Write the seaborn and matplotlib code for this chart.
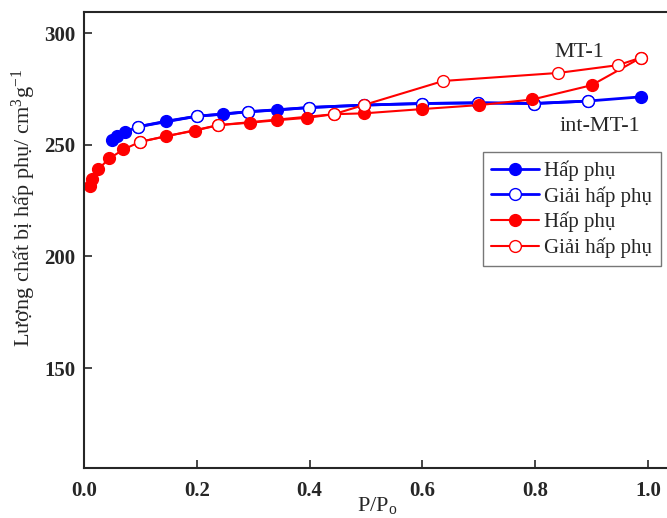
import numpy as np
import pandas as pd
import seaborn as sns
import matplotlib.pyplot as plt

# int-MT-1 (blue)
int_ads_x = [0.049, 0.058, 0.073, 0.096, 0.146, 0.200, 0.246, 0.290, 0.343, 0.399,
             0.497, 0.599, 0.698, 0.798, 0.893, 0.988]
int_ads_y = [252.1, 253.9, 255.8, 258.1, 260.6, 262.8, 263.7, 264.8, 265.6, 266.7,
             267.8, 268.5, 268.8, 268.5, 269.6, 271.5]
int_des_x = [0.893, 0.798, 0.698, 0.599, 0.497, 0.399, 0.290, 0.200, 0.096]
int_des_y = [269.6, 268.5, 268.8, 268.5, 267.8, 266.7, 264.8, 262.8, 258.1]

# MT-1 (red)
mt_ads_x = [0.011, 0.015, 0.025, 0.045, 0.070, 0.099, 0.146, 0.196, 0.238, 0.294,
            0.342, 0.396, 0.443, 0.497, 0.599, 0.701, 0.795, 0.900, 0.988]
mt_ads_y = [231.5, 234.5, 239.0, 243.9, 247.9, 251.3, 253.9, 256.3, 258.8, 259.9,
            261.0, 262.1, 263.7, 264.1, 266.0, 267.8, 270.3, 276.7, 289.1]
mt_des_x = [0.988, 0.947, 0.841, 0.637, 0.497, 0.443, 0.238, 0.099]
mt_des_y = [289.1, 285.7, 282.2, 278.6, 267.9, 263.7, 258.8, 251.3]

sns.set_style('ticks')
plt.rcParams['font.family'] = ['Liberation Serif', 'DejaVu Serif']
plt.rcParams['mathtext.fontset'] = 'stix'

W, H = 667, 518
fig = plt.figure(figsize=(W / 100, H / 100), dpi=100)
# right spine falls just outside the canvas, as in the reference
ax = fig.add_axes([84 / W, 1 - 468 / H, (676 - 84) / W, (468 - 12) / H])

series = [
    (int_ads_x, int_ads_y, 'blue', 'blue', 'Hấp phụ', 2.0),
    (int_des_x, int_des_y, 'blue', 'white', 'Giải hấp phụ', 2.0),
    (mt_ads_x, mt_ads_y, 'red', 'red', 'Hấp phụ', 1.5),
    (mt_des_x, mt_des_y, 'red', 'white', 'Giải hấp phụ', 1.5),
]
for xs, ys, col, face, lab, lw in series:
    df = pd.DataFrame({'x': xs, 'y': ys})
    sns.lineplot(data=df, x='x', y='y', ax=ax, sort=False, color=col, lw=lw,
                 marker='o', markersize=8.5, markerfacecolor=face,
                 markeredgecolor=col, markeredgewidth=1.0, label=lab)

ax.set_xlim(0, (676 - 84) / 564)
ax.set_ylim(105.2, 309.5)
ax.set_xticks([0.0, 0.2, 0.4, 0.6, 0.8, 1.0])
ax.set_yticks([150, 200, 250, 300])
ax.tick_params(direction='in', length=6, width=1.2, labelsize=15)
ax.tick_params(axis='x', pad=9)
ax.tick_params(axis='y', pad=6)
for t in ax.get_xticklabels() + ax.get_yticklabels():
    t.set_fontweight('bold')
for s in ax.spines.values():
    s.set_linewidth(1.5)

ax.set_xlabel('P/P$_\\mathregular{o}$', fontsize=16)
ax.xaxis.set_label_coords(377 / W, 1 - 495 / H, transform=fig.transFigure)
ax.xaxis.label.set_va('top')
ax.set_ylabel('Lượng chất bị hấp phụ/ cm$\\mathregular{^3}$g$\\mathregular{^{-1}}$', fontsize=16)
ax.yaxis.set_label_coords(38 / W, 1 - 208 / H, transform=fig.transFigure)

ax.text(0.878, 289.3, 'MT-1', fontsize=16, ha='center', va='baseline')
ax.text(0.915, 256.1, 'int-MT-1', fontsize=16, ha='center', va='baseline')

leg = ax.legend(loc='upper left', bbox_to_anchor=(483 / W, 1 - 152 / H),
                bbox_transform=fig.transFigure, prop={'size': 15}, frameon=True,
                fancybox=False, edgecolor='#555555', borderpad=0.4,
                handlelength=2.3, handletextpad=0.25, labelspacing=0.25,
                borderaxespad=0)
leg.get_frame().set_linewidth(1.0)

fig.savefig('out.png', dpi=100)
